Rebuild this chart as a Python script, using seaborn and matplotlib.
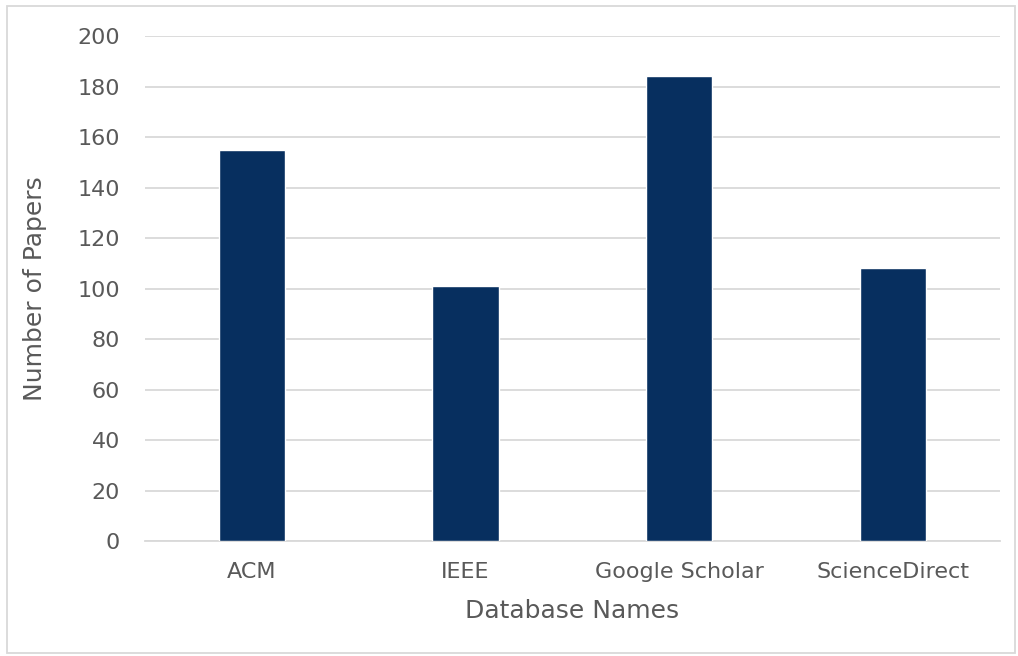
import pandas as pd
import seaborn as sns
import matplotlib.pyplot as plt
from matplotlib.patches import Rectangle

databases = ["ACM", "IEEE", "Google Scholar", "ScienceDirect"]
papers = [155, 101, 184, 108]

df = pd.DataFrame(dict(database=databases, papers=papers))

sns.set_style("white")
plt.rcParams['font.family'] = ['DejaVu Sans']

text_col = "#595959"
grid_col = "#d9d9d9"

fig = plt.figure(figsize=(10.18, 6.56), dpi=100)
ax = fig.add_axes([0.1424, 0.1753, 0.8399, 0.7698])

sns.barplot(data=df, x="database", y="papers", color="#072f5f", width=0.31,
            saturation=1, ax=ax, zorder=3)

ax.set_ylim(0, 200)
ax.set_yticks(range(0, 201, 20))
ax.set_xlim(-0.5, 3.5)
ax.yaxis.grid(True, color=grid_col, linewidth=1.3, zorder=0)
ax.set_axisbelow(True)
for s in ["top", "right", "left"]:
    ax.spines[s].set_visible(False)
ax.spines["bottom"].set_color(grid_col)
ax.spines["bottom"].set_linewidth(1.3)
ax.tick_params(axis="both", length=0, labelsize=16, labelcolor=text_col)
ax.tick_params(axis="y", pad=18)
ax.tick_params(axis="x", pad=15)

ax.set_xlabel("Database Names", fontsize=18, color=text_col, labelpad=12)
ax.set_ylabel("Number of Papers", fontsize=18, color=text_col, labelpad=22)

# light border around the whole chart
fig.patches.append(Rectangle((0.007, 0.004), 0.99, 0.987, transform=fig.transFigure,
                             fill=False, edgecolor=grid_col, linewidth=1.3))

plt.savefig("out.png", dpi=100)
